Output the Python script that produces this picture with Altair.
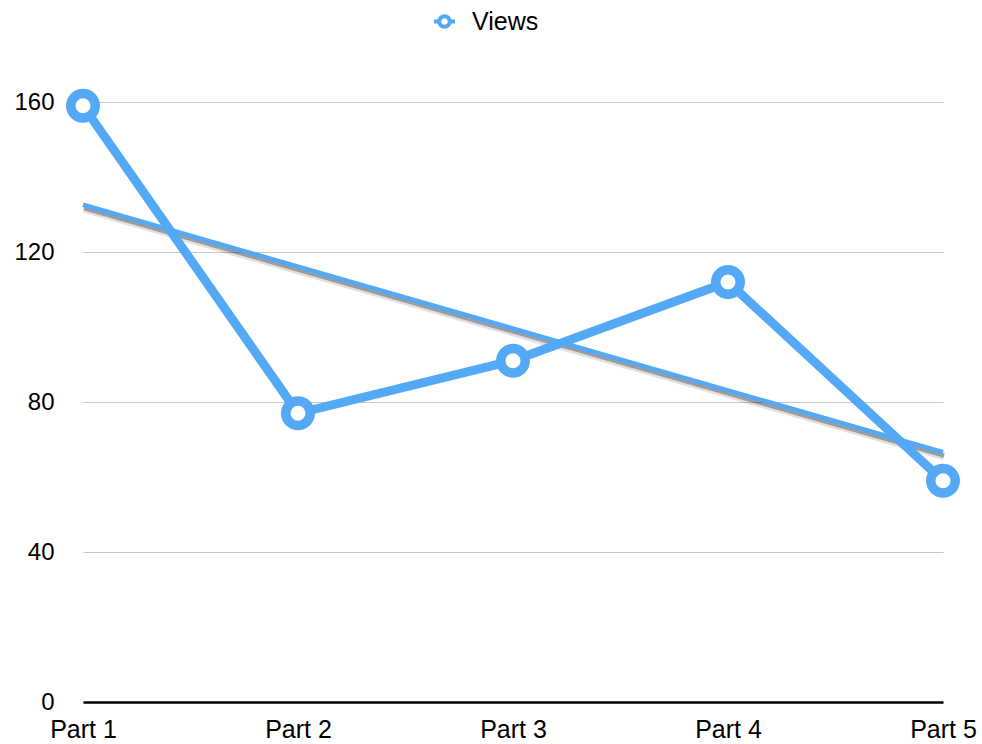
import altair as alt
import pandas as pd

# Episode views per part
parts = ["Part 1", "Part 2", "Part 3", "Part 4", "Part 5"]
views = [159, 77, 91, 112, 59]
series = ["Views"] * len(parts)

BLUE = "#54A9F6"
FONT = "Liberation Sans"

df = pd.DataFrame({
    "idx": list(range(1, len(parts) + 1)),
    "part": parts,
    "views": views,
    "series": series,
})

label_expr = f"{parts}[datum.value - 1]"

x_enc = alt.X(
    "idx:Q",
    scale=alt.Scale(domain=[1, len(parts)], nice=False, zero=False),
    axis=alt.Axis(
        values=list(range(1, len(parts) + 1)),
        labelExpr=label_expr,
        title=None,
        grid=False,
        ticks=False,
        domain=True,
        domainColor="black",
        domainWidth=2.5,
        labelFontSize=25,
        labelFont=FONT,
        labelColor="black",
        labelPadding=15,
        labelFlush=False,
        labelOverlap=False,
    ),
)
y_enc = alt.Y(
    "views:Q",
    scale=alt.Scale(domain=[0, 160], nice=False),
    axis=alt.Axis(
        values=[0, 40, 80, 120, 160],
        title=None,
        grid=True,
        gridColor="#c8c8c8",
        gridWidth=1,
        ticks=False,
        domain=False,
        labelFontSize=24,
        labelFont=FONT,
        labelColor="black",
        labelPadding=29,
    ),
)

base = alt.Chart(df)

trend = base.transform_regression("idx", "views", extent=[1, len(parts)])

# soft drop shadow under the trend line
shadow_wide = trend.mark_line(
    color="#000000", opacity=0.12, strokeWidth=8, xOffset=1, yOffset=4
).encode(x=x_enc, y=y_enc)
shadow_core = trend.mark_line(
    color="#000000", opacity=0.3, strokeWidth=4, xOffset=1, yOffset=3.5
).encode(x=x_enc, y=y_enc)
trend_line = trend.mark_line(color=BLUE, strokeWidth=4.5).encode(x=x_enc, y=y_enc)

legend_symbol = (
    "M -1 0 L -0.5 0 M 0.5 0 L 1 0 "
    "M 0.5 0 A 0.5 0.5 0 1 1 -0.5 0 A 0.5 0.5 0 1 1 0.5 0 Z"
)

color_enc = alt.Color(
    "series:N",
    scale=alt.Scale(domain=["Views"], range=[BLUE]),
    legend=alt.Legend(
        title=None,
        orient="none",
        legendX=349,
        legendY=-93,
        direction="horizontal",
        symbolType=legend_symbol,
        symbolSize=441,
        symbolStrokeWidth=4,
        symbolFillColor="white",
        symbolStrokeColor=BLUE,
        labelFontSize=25,
        labelFont=FONT,
        labelColor="black",
        labelOffset=15,
        padding=0,
    ),
)

data_line = base.mark_line(strokeWidth=9).encode(x=x_enc, y=y_enc, color=color_enc)
data_points = base.mark_point(
    filled=True, fill="white", stroke=BLUE, strokeWidth=9.5, size=600, opacity=1
).encode(x=x_enc, y=y_enc)

chart = alt.layer(
    shadow_wide, shadow_core, trend_line, data_line, data_points
).properties(
    width=860,
    height=600,
    autosize=alt.AutoSizeParams(type="none"),
    padding={"left": 83, "top": 102, "right": 39, "bottom": 42},
    background="white",
).configure_view(stroke=None)

chart.save("out.html", embed_options={"renderer": "svg", "actions": False})
